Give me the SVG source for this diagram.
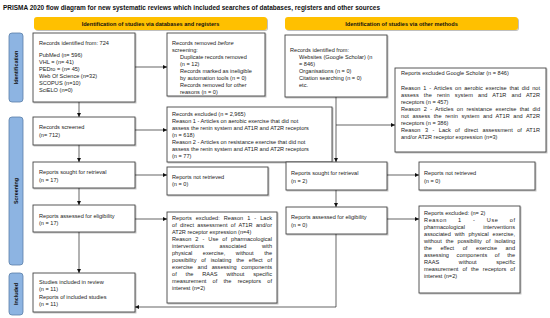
<svg xmlns="http://www.w3.org/2000/svg" width="550" height="318" viewBox="0 0 550 318">
<defs>
<marker id="ah" viewBox="0 0 6 6" refX="6" refY="3" markerWidth="4" markerHeight="4" orient="auto" markerUnits="userSpaceOnUse">
<path d="M0,0 L6,3 L0,6 Z" fill="#111"/>
</marker>
<filter id="sh" x="-5%" y="-5%" width="115%" height="120%">
<feDropShadow dx="1" dy="1" stdDeviation="0.6" flood-color="#000" flood-opacity="0.25"/>
</filter>
</defs>
<style>
.t{font-family:"Liberation Sans",Arial,sans-serif;font-size:5.6px;fill:#222}
.b{font-family:"Liberation Sans",Arial,sans-serif;font-weight:bold;fill:#111}
.box{fill:#fff;stroke:#444;stroke-width:0.9;filter:url(#sh)}
.hdr{fill:#FFC000;stroke:none}
.side{fill:#8DB4E2;stroke:#5a7fa8;stroke-width:0.8}
.c{fill:none;stroke:#222;stroke-width:0.7}
</style>
<rect width="550" height="318" fill="#fff"/>
<text class="b" x="3" y="10" font-size="6.6" textLength="377" lengthAdjust="spacingAndGlyphs">PRISMA 2020 flow diagram for new systematic reviews which included searches of databases, registers and other sources</text>

<g id="header-left"><rect class="hdr" x="34" y="17" width="233" height="13" rx="3" filter="url(#sh)"/><text class="b" x="150.5" y="25.6" font-size="5.6" text-anchor="middle">Identification of studies via databases and registers</text></g>
<g id="header-right"><rect class="hdr" x="285" y="17" width="233" height="13" rx="3" filter="url(#sh)"/><text class="b" x="401.5" y="25.6" font-size="5.6" text-anchor="middle">Identification of studies via other methods</text></g>

<g id="side-identification"><rect class="side" x="9" y="33" width="14" height="69" rx="3"/><text class="b" font-size="5.4" transform="translate(18,67.5) rotate(-90)" text-anchor="middle">Identification</text></g>
<g id="side-screening"><rect class="side" x="9" y="117" width="14" height="148" rx="3"/><text class="b" font-size="5.4" transform="translate(18,191) rotate(-90)" text-anchor="middle">Screening</text></g>
<g id="side-included"><rect class="side" x="9" y="273" width="14" height="42" rx="3"/><text class="b" font-size="5.4" transform="translate(18,294) rotate(-90)" text-anchor="middle">Included</text></g>

<g id="records-identified"><rect class="box" x="33" y="33" width="102" height="69"/>
<text class="t" x="39" y="45">Records identified from: 724</text>
<text class="t" x="39" y="57">PubMed (n= 596)</text>
<text class="t" x="39" y="64">VHL = (n= 41)</text>
<text class="t" x="39" y="71">PEDro = (n= 45)</text>
<text class="t" x="39" y="78">Web Of Science (n=32)</text>
<text class="t" x="39" y="85">SCOPUS (n=10)</text>
<text class="t" x="39" y="92">SciELO (n=0)</text>
</g>

<g id="records-removed"><rect class="box" x="167" y="33" width="98" height="63"/>
<text class="t" x="172" y="45">Records removed <tspan font-style="italic">before</tspan></text>
<text class="t" x="172" y="52">screening:</text>
<text class="t" x="180" y="59">Duplicate records removed</text>
<text class="t" x="180" y="66">(n = 12)</text>
<text class="t" x="180" y="73">Records marked as ineligible</text>
<text class="t" x="180" y="80">by automation tools (n = 0)</text>
<text class="t" x="180" y="87">Records removed for other</text>
<text class="t" x="180" y="94">reasons (n = 0)</text>
</g>

<g id="records-other"><rect class="box" x="285" y="35" width="102" height="62"/>
<text class="t" x="290" y="52">Records identified from:</text>
<text class="t" x="299" y="59">Websites (Google Scholar) (n</text>
<text class="t" x="299" y="66">= 846)</text>
<text class="t" x="299" y="73">Organisations (n = 0)</text>
<text class="t" x="299" y="80">Citation searching (n = 0)</text>
<text class="t" x="299" y="87">etc.</text>
</g>

<g id="excluded-google"><rect class="box" x="395" y="68" width="151" height="84"/>
<text class="t" x="401" y="75">Reports excluded Google Scholar (n = 846)</text>
<text class="t" x="401" y="90" word-spacing="1.3" textLength="139" lengthAdjust="spacing">Reason 1 - Articles on aerobic exercise that did not</text>
<text class="t" x="401" y="97" word-spacing="3.5" textLength="139" lengthAdjust="spacing">assess the renin system and AT1R and AT2R</text>
<text class="t" x="401" y="104">receptors (n = 457)</text>
<text class="t" x="401" y="111" word-spacing="1.7" textLength="139" lengthAdjust="spacing">Reason 2 - Articles on resistance exercise that did</text>
<text class="t" x="401" y="118" word-spacing="1.9" textLength="139" lengthAdjust="spacing">not assess the renin system and AT1R and AT2R</text>
<text class="t" x="401" y="125">receptors (n = 386)</text>
<text class="t" x="401" y="132" word-spacing="2.8" textLength="139" lengthAdjust="spacing">Reason 3 - Lack of direct assessment of AT1R</text>
<text class="t" x="401" y="139">and/or AT2R receptor expression (n=3)</text>
</g>

<g id="records-screened"><rect class="box" x="33" y="117" width="102" height="28"/>
<text class="t" x="39" y="129">Records screened</text>
<text class="t" x="39" y="137">(n= 712)</text>
</g>

<g id="records-excluded"><rect class="box" x="167" y="107" width="165" height="55"/>
<text class="t" x="172" y="116">Records excluded (n = 2,965)</text>
<text class="t" x="172" y="123">Reason 1 - Articles on aerobic exercise that did not</text>
<text class="t" x="172" y="130">assess the renin system and AT1R and AT2R receptors</text>
<text class="t" x="172" y="137">(n = 618)</text>
<text class="t" x="172" y="144">Reason 2 - Articles on resistance exercise that did not</text>
<text class="t" x="172" y="151">assess the renin system and AT1R and AT2R receptors</text>
<text class="t" x="172" y="158">(n = 77)</text>
</g>

<g id="sought-left"><rect class="box" x="33" y="162" width="102" height="26"/>
<text class="t" x="39" y="174">Reports sought for retrieval</text>
<text class="t" x="39" y="182">(n = 17)</text>
</g>

<g id="not-retrieved-left"><rect class="box" x="167" y="167" width="101" height="28"/>
<text class="t" x="172" y="179">Reports not retrieved</text>
<text class="t" x="172" y="186">(n = 0)</text>
</g>

<g id="assessed-left"><rect class="box" x="33" y="205" width="102" height="27"/>
<text class="t" x="39" y="218">Reports assessed for eligibility</text>
<text class="t" x="39" y="225">(n = 17)</text>
</g>

<g id="excluded-left"><rect class="box" x="167" y="212" width="110" height="91"/>
<text class="t" x="172" y="220" word-spacing="2.4" textLength="100" lengthAdjust="spacing">Reports excluded: Reason 1 - Lack</text>
<text class="t" x="172" y="227" word-spacing="1.7" textLength="100" lengthAdjust="spacing">of direct assessment of AT1R and/or</text>
<text class="t" x="172" y="234">AT2R receptor expression (n=4)</text>
<text class="t" x="172" y="241" word-spacing="2.4" textLength="100" lengthAdjust="spacing">Reason 2 - Use of pharmacological</text>
<text class="t" x="172" y="248" word-spacing="14" textLength="100" lengthAdjust="spacing">interventions associated with</text>
<text class="t" x="172" y="255" word-spacing="9" textLength="100" lengthAdjust="spacing">physical exercise, without the</text>
<text class="t" x="172" y="262" word-spacing="3.2" textLength="100" lengthAdjust="spacing">possibility of isolating the effect of</text>
<text class="t" x="172" y="269" word-spacing="3.1" textLength="100" lengthAdjust="spacing">exercise and assessing components</text>
<text class="t" x="172" y="276" word-spacing="7.3" textLength="100" lengthAdjust="spacing">of the RAAS without specific</text>
<text class="t" x="172" y="283" word-spacing="4.7" textLength="100" lengthAdjust="spacing">measurement of the receptors of</text>
<text class="t" x="172" y="290">interest (n=2)</text>
</g>

<g id="sought-right"><rect class="box" x="286" y="162" width="101" height="28"/>
<text class="t" x="291" y="175">Reports sought for retrieval</text>
<text class="t" x="291" y="183">(n = 2)</text>
</g>

<g id="not-retrieved-right"><rect class="box" x="419" y="162" width="116" height="28"/>
<text class="t" x="424" y="175">Reports not retrieved</text>
<text class="t" x="424" y="183">(n = 0)</text>
</g>

<g id="assessed-right"><rect class="box" x="286" y="207" width="101" height="27"/>
<text class="t" x="291" y="219">Reports assessed for eligibility</text>
<text class="t" x="291" y="227">(n = 0)</text>
</g>

<g id="excluded-right"><rect class="box" x="419" y="206" width="101" height="87"/>
<text class="t" x="424" y="215">Reports excluded: (n= 2)</text>
<text class="t" x="424" y="222" word-spacing="9.1" textLength="91" lengthAdjust="spacing">Reason 1 - Use of</text>
<text class="t" x="424" y="229" word-spacing="16.7" textLength="91" lengthAdjust="spacing">pharmacological interventions</text>
<text class="t" x="424" y="236" word-spacing="2.2" textLength="91" lengthAdjust="spacing">associated with physical exercise,</text>
<text class="t" x="424" y="243" word-spacing="2.4" textLength="91" lengthAdjust="spacing">without the possibility of isolating</text>
<text class="t" x="424" y="250" word-spacing="7" textLength="91" lengthAdjust="spacing">the effect of exercise and</text>
<text class="t" x="424" y="257" word-spacing="6.1" textLength="91" lengthAdjust="spacing">assessing components of the</text>
<text class="t" x="424" y="264" word-spacing="18" textLength="91" lengthAdjust="spacing">RAAS without specific</text>
<text class="t" x="424" y="271" word-spacing="2.4" textLength="91" lengthAdjust="spacing">measurement of the receptors of</text>
<text class="t" x="424" y="278">interest (n=2)</text>
</g>

<g id="included"><rect class="box" x="33" y="273" width="102" height="39"/>
<text class="t" x="39" y="284">Studies included in review</text>
<text class="t" x="39" y="291">(n = 11)</text>
<text class="t" x="39" y="299">Reports of included studies</text>
<text class="t" x="39" y="306">(n = 11)</text>
</g>

<g id="connectors">
<path class="c" d="M135,67 H167" marker-end="url(#ah)"/>
<path class="c" d="M79,102 V117" marker-end="url(#ah)"/>
<path class="c" d="M135,130 H167" marker-end="url(#ah)"/>
<path class="c" d="M79,145 V162" marker-end="url(#ah)"/>
<path class="c" d="M135,175 H167" marker-end="url(#ah)"/>
<path class="c" d="M79,188 V205" marker-end="url(#ah)"/>
<path class="c" d="M135,219 H167" marker-end="url(#ah)"/>
<path class="c" d="M79,232 V273" marker-end="url(#ah)"/>
<path class="c" d="M336,97 V162" marker-end="url(#ah)"/>
<path class="c" d="M336,125 H395" marker-end="url(#ah)"/>
<path class="c" d="M387,175 H419" marker-end="url(#ah)"/>
<path class="c" d="M336,190 V207" marker-end="url(#ah)"/>
<path class="c" d="M387,219 H419" marker-end="url(#ah)"/>
<path class="c" d="M336,234 V307 H135" marker-end="url(#ah)"/>
</g>
</svg>
